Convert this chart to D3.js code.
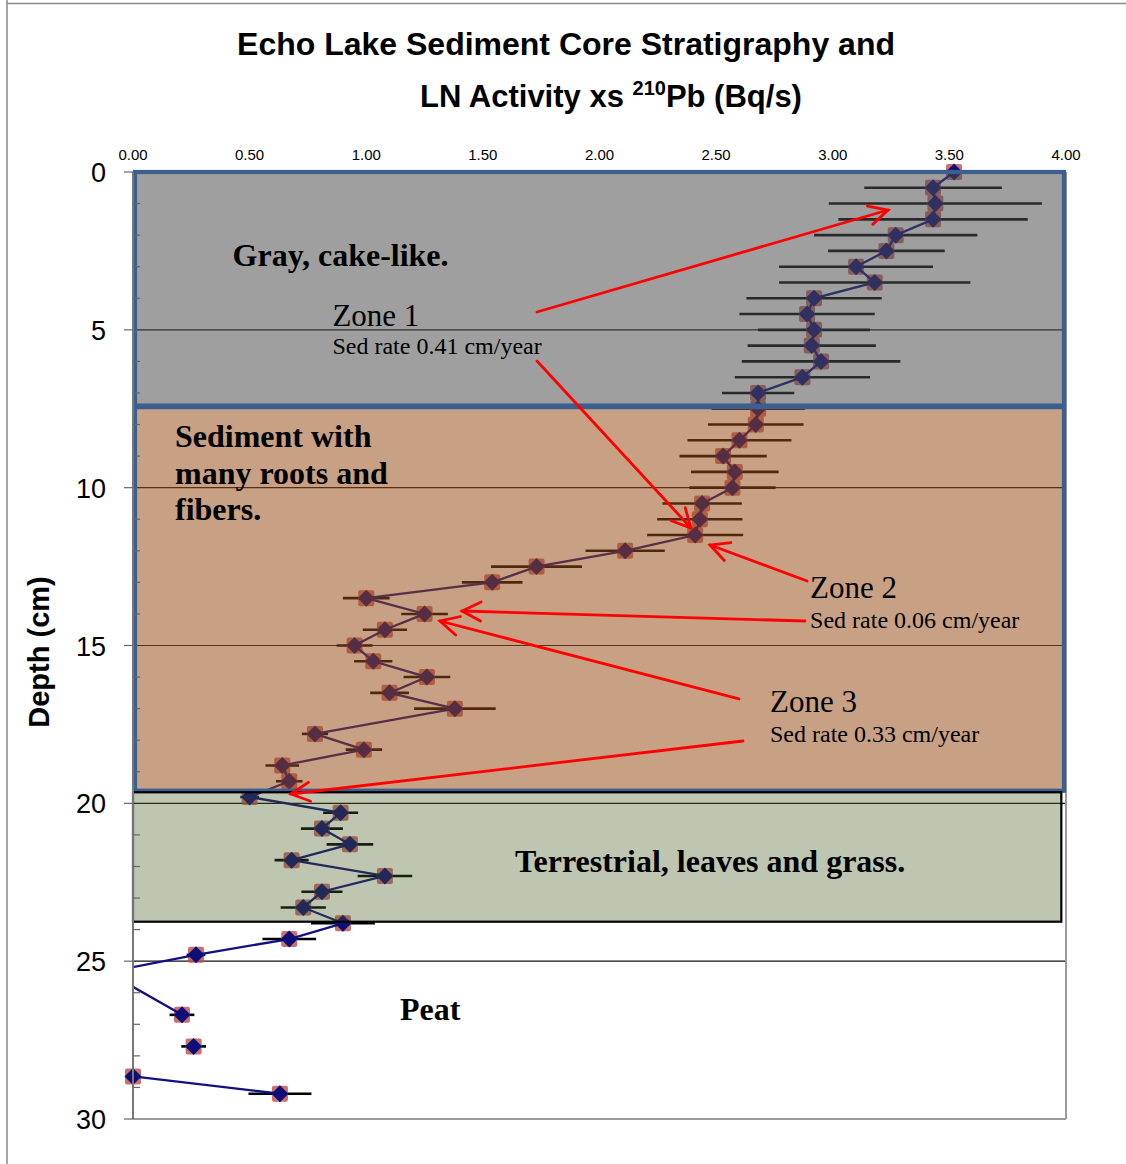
<!DOCTYPE html>
<html><head><meta charset="utf-8">
<script src="https://cdn.jsdelivr.net/npm/d3@7"></script>
<style>body{margin:0;background:#fff}</style>
</head><body>
<svg id="chart" width="1126" height="1164"></svg>
<script>
// ---- data ----
const depths   = [0,0.5,1,1.5,2,2.5,3,3.5,4,4.5,5,5.5,6,6.5,7,7.5,8,8.5,9,9.5,10,10.5,11,11.5,12,12.5,13,13.5,14,14.5,15,15.5,16,16.5,17,17.8,18.3,18.8,19.3,19.8,20.3,20.8,21.3,21.8,22.3,22.8,23.3,23.8,24.3,24.8,25.35,26.7,27.2,27.7,28.2,28.65,29.2];
const activity = [3.52,3.43,3.44,3.43,3.27,3.23,3.10,3.18,2.92,2.89,2.92,2.91,2.95,2.87,2.68,2.68,2.67,2.60,2.53,2.58,2.57,2.44,2.43,2.41,2.11,1.73,1.54,1.00,1.25,1.08,0.95,1.03,1.26,1.10,1.38,0.78,0.99,0.64,0.67,0.50,0.89,0.81,0.93,0.68,1.08,0.81,0.73,0.90,0.67,0.27,-0.11,0.21,null,0.26,null,0.00,0.63];
const errors   = [0.45,0.295,0.457,0.406,0.35,0.25,0.33,0.41,0.29,0.29,0.24,0.275,0.34,0.29,0.155,0.20,0.205,0.223,0.187,0.188,0.185,0.17,0.183,0.206,0.17,0.195,0.13,0.10,0.10,0.095,0.077,0.082,0.10,0.083,0.175,0.056,0.078,0.072,0.057,0.04,0.075,0.09,0.10,0.073,0.117,0.088,0.097,0.137,0.115,0.04,0.05,0.053,null,0.053,null,0,0.135];
const xTicks = [0,0.5,1,1.5,2,2.5,3,3.5,4];
const yTicks = [0,5,10,15,20,25,30];
const yMinor = d3.range(0,31,1);
const gridDepths = [5,10,15,20,25];
// zones: [top depth, bottom depth, right value]
const zoneTop    = [0, 7.45, 19.65];
const zoneBottom = [7.4, 19.6, 23.75];
const zoneRight  = [4, 4, 3.98];
const zoneNames  = ["gray","orange","green"];
// annotation texts: [text, x value, depth of baseline, style]
const labels = [
  ["Gray, cake-like.", 0.427, 2.98, "b"],
  ["Zone 1", 0.855, 4.88, "z"],
  ["Sed rate 0.41 cm/year", 0.855, 5.77, "s"],
  ["Sediment with", 0.18, 8.72, "b"],
  ["many roots and", 0.18, 9.885, "b"],
  ["fibers.", 0.18, 11.03, "b"],
  ["Zone 2", 2.903, 13.51, "z"],
  ["Sed rate 0.06 cm/year", 2.903, 14.46, "s"],
  ["Zone 3", 2.731, 17.1, "z"],
  ["Sed rate 0.33 cm/year", 2.731, 18.05, "s"],
  ["Terrestrial, leaves and grass.", 1.638, 22.17, "b"],
  ["Peat", 1.145, 26.86, "b"]
];
// arrows: [from x, from depth, to x, to depth]
const arrows = [
  [1.732, 4.435, 3.237, 1.204],
  [1.732, 5.987, 2.392, 11.278],
  [2.890, 12.956, 2.474, 11.816],
  [2.881, 14.224, 1.411, 13.907],
  [2.598, 16.694, 1.316, 14.224],
  [2.615, 18.025, 0.677, 19.704]
];

const pts = depths.map((d,i)=>({d, v: activity[i], e: errors[i]}));

const svg = d3.select("#chart");
const x = d3.scaleLinear().domain([0,4]).range([133,1066]);
const y = d3.scaleLinear().domain([0,30]).range([172,1119]);

// outer frame
svg.append("line").attr("x1",7).attr("x2",7).attr("y1",0).attr("y2",1164).attr("stroke","#888").attr("stroke-width",1.5);
svg.append("line").attr("x1",7).attr("x2",1126).attr("y1",3.5).attr("y2",3.5).attr("stroke","#888").attr("stroke-width",1.5);

// title
svg.append("text").attr("font-family","Liberation Sans, Arial, sans-serif").attr("font-weight","bold").attr("font-size",32).attr("fill","#000")
  .attr("x",566).attr("y",55).attr("text-anchor","middle").text("Echo Lake Sediment Core Stratigraphy and");
const t2 = svg.append("text").attr("font-family","Liberation Sans, Arial, sans-serif").attr("font-weight","bold").attr("font-size",31).attr("fill","#000").attr("x",611).attr("y",107).attr("text-anchor","middle");
t2.append("tspan").text("LN Activity xs ");
t2.append("tspan").attr("font-size",20).attr("dy",-12).text("210");
t2.append("tspan").attr("dy",12).text("Pb (Bq/s)");

// gridlines
svg.append("g").selectAll("line").data(gridDepths).join("line")
  .attr("x1",x(0)).attr("x2",x(4)).attr("y1",d=>y(d)).attr("y2",d=>y(d))
  .attr("stroke","#111").attr("stroke-width",1.2);

// plot border (right, bottom)
svg.append("line").attr("x1",x(4)).attr("x2",x(4)).attr("y1",y(0)).attr("y2",y(30)).attr("stroke","#9a9a9a").attr("stroke-width",2);
svg.append("line").attr("x1",x(0)).attr("x2",x(4)).attr("y1",y(30)).attr("y2",y(30)).attr("stroke","#9a9a9a").attr("stroke-width",2);

// data layer
const dataG = svg.append("g");
svg.append("clipPath").attr("id","clipLine").append("rect")
  .attr("x",x(0)).attr("y",y(0)-20).attr("width",x(4)-x(0)).attr("height",y(30)-y(0)+20);

const valid = pts.filter(p=>p.v!==null && p.v>=0);
// error bars
dataG.append("g").selectAll("line").data(valid.filter(p=>p.e>0)).join("line")
  .attr("x1",p=>x(p.v-p.e)).attr("x2",p=>x(p.v+p.e)).attr("y1",p=>y(p.d)).attr("y2",p=>y(p.d))
  .attr("stroke","#000").attr("stroke-width",2.6);
// square markers
dataG.append("g").selectAll("rect").data(valid).join("rect")
  .attr("x",p=>x(p.v)-8).attr("y",p=>y(p.d)-8).attr("width",16).attr("height",16).attr("rx",2)
  .attr("fill","#c0504d").attr("fill-opacity",0.82);
// line
const line = d3.line().defined(p=>p.v!==null).x(p=>x(p.v)).y(p=>y(p.d));
dataG.append("path").datum(pts).attr("d",line).attr("fill","none")
  .attr("stroke","#10107f").attr("stroke-width",2.3).attr("clip-path","url(#clipLine)");
// diamonds
dataG.append("g").selectAll("path").data(valid).join("path")
  .attr("d",p=>{const cx=x(p.v), cy=y(p.d), r=8.5; return `M${cx},${cy-r}L${cx+r},${cy}L${cx},${cy+r}L${cx-r},${cy}Z`;})
  .attr("fill","#0e0e78");

// zone overlays
const fills = {gray:["rgb(78,78,78)",0.54], orange:["rgb(151,76,23)",0.53], green:["rgb(69,92,32)",0.35]};
zoneNames.forEach((n,i)=>{
  const x0 = x(0), x1 = x(zoneRight[i]);
  const y0 = y(zoneTop[i]), y1 = y(zoneBottom[i]);
  const isGreen = n==="green";
  const inset = isGreen ? 0 : 2;
  svg.append("rect").attr("x",x0+inset).attr("y",y0).attr("width",x1-x0-2*inset).attr("height",y1-y0)
    .attr("fill",fills[n][0]).attr("fill-opacity",fills[n][1])
    .attr("stroke",isGreen?"#000":"#3b5f8f").attr("stroke-width",isGreen?2.2:4.2);
});

// y axis
const yAxisG = svg.append("g");
yAxisG.append("line").attr("x1",x(0)).attr("x2",x(0)).attr("y1",y(0)).attr("y2",y(30)).attr("stroke","#777").attr("stroke-width",2);
yAxisG.selectAll("line.minor").data(yMinor.filter(d=>d%5!==0)).join("line").attr("class","minor")
  .attr("x1",x(0)).attr("x2",x(0)+7).attr("y1",d=>y(d)).attr("y2",d=>y(d)).attr("stroke","#666").attr("stroke-width",1.2);
yAxisG.selectAll("line.major").data(yTicks).join("line").attr("class","major")
  .attr("x1",x(0)-9).attr("x2",x(0)).attr("y1",d=>y(d)).attr("y2",d=>y(d)).attr("stroke","#666").attr("stroke-width",1.2);
yAxisG.selectAll("text").data(yTicks).join("text")
  .attr("x",106).attr("y",d=>y(d)+10).attr("text-anchor","end")
  .attr("font-family","Liberation Sans, Arial, sans-serif").attr("font-size",27).attr("fill","#000")
  .text(d=>d);
svg.append("text").attr("transform","translate(49,652) rotate(-90)").attr("text-anchor","middle")
  .attr("font-family","Liberation Sans, Arial, sans-serif").attr("font-weight","bold").attr("font-size",29)
  .text("Depth (cm)");

// x axis labels (top)
svg.append("g").selectAll("text").data(xTicks).join("text")
  .attr("x",d=>x(d)).attr("y",160).attr("text-anchor","middle")
  .attr("font-family","Liberation Sans, Arial, sans-serif").attr("font-size",15).attr("fill","#000")
  .text(d=>d3.format(".2f")(d));

// annotation labels
const styleMap = {b:[32,"bold"], z:[31,"normal"], s:[24,"normal"]};
svg.append("g").selectAll("text").data(labels).join("text")
  .attr("x",l=>x(l[1])).attr("y",l=>y(l[2]))
  .attr("font-family","Liberation Serif, Times New Roman, serif")
  .attr("font-size",l=>styleMap[l[3]][0]).attr("font-weight",l=>styleMap[l[3]][1])
  .attr("fill","#000").text(l=>l[0]);

// arrows
const arrowG = svg.append("g").attr("stroke","#ff0000").attr("stroke-width",2.8).attr("fill","none").attr("stroke-linecap","round");
arrows.forEach(a=>{
  const x1=x(a[0]), y1=y(a[1]), x2=x(a[2]), y2=y(a[3]);
  arrowG.append("line").attr("x1",x1).attr("y1",y1).attr("x2",x2).attr("y2",y2);
  const ang = Math.atan2(y1-y2, x1-x2), L=21, spread=27*Math.PI/180;
  const p1=[x2+L*Math.cos(ang+spread), y2+L*Math.sin(ang+spread)];
  const p2=[x2+L*Math.cos(ang-spread), y2+L*Math.sin(ang-spread)];
  arrowG.append("path").attr("d",`M${p1[0]},${p1[1]}L${x2},${y2}L${p2[0]},${p2[1]}`).attr("stroke-linejoin","miter");
});
</script>
</body></html>
